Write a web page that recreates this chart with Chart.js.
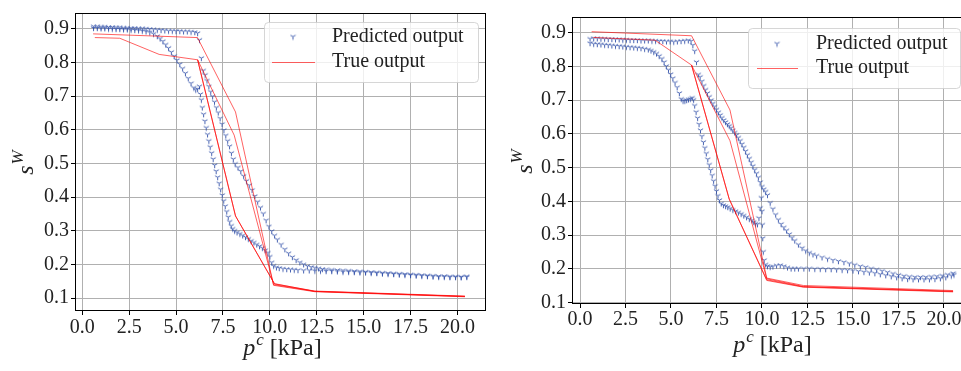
<!DOCTYPE html>
<html><head><meta charset="utf-8">
<script src="https://cdn.jsdelivr.net/npm/chart.js@4.4.1/dist/chart.umd.min.js"></script>
<style>
html,body{margin:0;padding:0;background:#fff;overflow:hidden;width:961px;height:371px;}
#wrap{position:relative;width:961px;height:371px;overflow:hidden;background:#fff;}
#c1{position:absolute;left:0;top:0;}
#c2{position:absolute;left:490px;top:0;}
</style></head>
<body><div id="wrap"><canvas id="c1" width="490" height="371"></canvas><canvas id="c2" width="490" height="371"></canvas></div>
<script>
// ---------- tick labels ----------
const xTicks = [0.0, 2.5, 5.0, 7.5, 10.0, 12.5, 15.0, 17.5, 20.0];
const yTicks = [0.1, 0.2, 0.3, 0.4, 0.5, 0.6, 0.7, 0.8, 0.9];
const seriesNames = ["Predicted output", "True output"];
const xTitle = ["p", "c", " [kPa]"];
const yTitle = ["s", "W"];

// ---------- left panel: predicted output [p^c, s^W] ----------
const leftPredicted1 = [
[0.6,0.906],[0.8,0.906],[1.0,0.905],[1.2,0.905],[1.4,0.904],[1.6,0.904],[1.8,0.903],[2.0,0.903],[2.2,0.902],[2.4,0.902],
[2.6,0.901],[2.8,0.901],[3.0,0.900],[3.2,0.900],[3.4,0.899],[3.6,0.898],[3.8,0.897],[4.0,0.896],[4.2,0.895],[4.4,0.894],
[4.6,0.893],[4.8,0.893],[5.0,0.892],[5.2,0.892],[5.4,0.891],[5.6,0.891],[5.8,0.890],[6.0,0.889],[6.15,0.886],[6.25,0.866],
[6.35,0.812],[6.45,0.775],[6.55,0.762],[6.65,0.745],[6.75,0.728],[6.85,0.712],[6.95,0.698],[7.05,0.682],[7.15,0.665],[7.25,0.650],
[7.35,0.633],[7.45,0.616],[7.55,0.598],[7.65,0.582],[7.75,0.566],[7.85,0.550],[7.95,0.530],[8.05,0.512],[8.15,0.498],
[8.3,0.487],[8.45,0.476],[8.6,0.462],[8.75,0.447],[8.9,0.434],[9.05,0.420],[9.2,0.402],[9.35,0.385],[9.5,0.368],[9.65,0.350],
[9.8,0.330],[9.95,0.312],[10.1,0.298],[10.25,0.285],[10.4,0.273],[10.6,0.258],[10.8,0.244],[11.0,0.232],[11.2,0.221],[11.4,0.212],
[11.6,0.205],[11.8,0.199],[12.0,0.194],[12.2,0.191],[12.4,0.189],[12.6,0.187],[12.8,0.185],[13.0,0.184],[13.3,0.183],[13.6,0.182],
[13.9,0.181],[14.2,0.180],[14.5,0.179],[14.8,0.178],[15.1,0.177],[15.4,0.176],[15.7,0.175],[16.0,0.174],[16.3,0.173],[16.6,0.172],
[16.9,0.171],[17.2,0.170],[17.5,0.169],[17.8,0.168],[18.1,0.167],[18.4,0.166],[18.7,0.165],[19.0,0.164],[19.3,0.164],[19.6,0.163],
[19.9,0.163],[20.2,0.162],[20.5,0.163]
];
const leftPredicted2 = [
[0.6,0.901],[0.8,0.901],[1.0,0.900],[1.2,0.900],[1.4,0.899],[1.6,0.899],[1.8,0.898],[2.0,0.898],[2.2,0.897],[2.4,0.897],
[2.6,0.896],[2.8,0.895],[3.0,0.894],[3.2,0.893],[3.4,0.891],[3.6,0.888],[3.8,0.884],[4.0,0.877],[4.15,0.870],[4.3,0.862],
[4.45,0.852],[4.6,0.842],[4.75,0.830],[4.9,0.818],[5.05,0.806],[5.2,0.794],[5.35,0.781],[5.5,0.767],[5.65,0.752],[5.8,0.737],
[5.95,0.724],[6.05,0.718],[6.15,0.720],[6.25,0.728],[6.3,0.705],[6.35,0.688],[6.4,0.665],[6.47,0.645],[6.54,0.625],[6.61,0.605],
[6.68,0.585],[6.75,0.566],[6.82,0.548],[6.9,0.530],[6.98,0.512],[7.06,0.494],[7.14,0.476],[7.22,0.458],[7.3,0.440],[7.38,0.422],
[7.46,0.405],[7.54,0.388],[7.62,0.372],[7.7,0.356],[7.78,0.340],[7.86,0.326],[7.94,0.314],[8.02,0.305],[8.12,0.299],[8.25,0.294],
[8.4,0.290],[8.55,0.285],[8.7,0.280],[8.85,0.275],[9.0,0.269],[9.15,0.264],[9.3,0.258],[9.45,0.253],[9.6,0.248],[9.75,0.241],
[9.9,0.234],[10.0,0.222],[10.1,0.205],[10.2,0.195],[10.35,0.190],[10.5,0.188],[10.7,0.186],[10.9,0.185],[11.1,0.184],[11.3,0.183],
[11.5,0.182],[11.8,0.181],[12.1,0.181],[12.4,0.180],[12.7,0.180],[13.0,0.179],[13.3,0.179],[13.6,0.178],[13.9,0.177],[14.2,0.177],
[14.5,0.176],[14.8,0.175],[15.1,0.175],[15.4,0.174],[15.7,0.173],[16.0,0.172],[16.3,0.171],[16.6,0.170],[16.9,0.169],[17.2,0.168],
[17.5,0.167],[17.8,0.166],[18.1,0.165],[18.4,0.164],[18.7,0.163],[19.0,0.162],[19.3,0.162],[19.6,0.161],[19.9,0.161],[20.2,0.161],
[20.5,0.162]
];
// ---------- left panel: true output ----------
const leftTrue1 = [[0.58,0.885],[6.14,0.874],[8.17,0.653],[10.2,0.138],[12.4,0.119],[20.4,0.104]];
const leftTrue2 = [[0.67,0.874],[2.0,0.872],[4.1,0.824],[6.15,0.808],[8.17,0.344],[10.25,0.142],[12.4,0.121],[20.4,0.106]];
const leftTrue3 = [[6.15,0.808],[8.1,0.584],[10.2,0.140],[12.4,0.120],[20.4,0.105]];
const leftTrue4 = [[6.15,0.808],[8.17,0.344],[10.25,0.143],[12.4,0.120],[20.4,0.105]];

// ---------- right panel: predicted output ----------
const rightPredicted1 = [
[0.55,0.881],[0.75,0.882],[0.95,0.882],[1.15,0.881],[1.35,0.881],[1.55,0.880],[1.75,0.880],[1.95,0.879],[2.15,0.879],[2.35,0.878],
[2.55,0.878],[2.75,0.877],[2.95,0.877],[3.15,0.877],[3.35,0.876],[3.55,0.876],[3.75,0.876],[3.95,0.875],[4.15,0.875],[4.35,0.874],
[4.55,0.874],[4.75,0.873],[4.95,0.873],[5.15,0.872],[5.35,0.873],[5.55,0.874],[5.75,0.875],[5.95,0.876],[6.1,0.874],[6.2,0.862],
[6.3,0.845],[6.4,0.812],[6.5,0.775],[6.6,0.768],[6.7,0.755],[6.8,0.742],[6.9,0.730],[7.0,0.720],[7.1,0.709],[7.2,0.699],
[7.3,0.689],[7.4,0.680],[7.5,0.671],[7.6,0.663],[7.7,0.655],[7.8,0.647],[7.9,0.640],[8.0,0.634],[8.1,0.628],[8.2,0.623],
[8.3,0.617],[8.4,0.610],[8.5,0.603],[8.6,0.596],[8.7,0.588],[8.8,0.579],[8.9,0.569],[9.0,0.559],[9.1,0.548],[9.2,0.537],
[9.3,0.526],[9.4,0.515],[9.5,0.504],[9.6,0.493],[9.7,0.482],[9.8,0.470],[9.9,0.456],[10.0,0.443],[10.1,0.435],[10.2,0.428],
[10.3,0.418],[10.45,0.395],[10.6,0.377],[10.75,0.360],[10.9,0.345],[11.05,0.332],[11.2,0.322],[11.35,0.313],[11.5,0.302],[11.65,0.292],
[11.8,0.283],[12.0,0.271],[12.2,0.261],[12.4,0.253],[12.6,0.247],[12.8,0.242],[13.0,0.238],[13.3,0.233],[13.6,0.229],[13.9,0.225],
[14.2,0.222],[14.5,0.219],[14.8,0.215],[15.1,0.211],[15.4,0.207],[15.7,0.204],[16.0,0.200],[16.3,0.197],[16.6,0.193],[16.9,0.189],
[17.2,0.185],[17.5,0.181],[17.8,0.178],[18.1,0.176],[18.4,0.175],[18.7,0.175],[19.0,0.175],[19.3,0.176],[19.6,0.177],[19.9,0.179],
[20.2,0.182],[20.5,0.186]
];
const rightPredicted2 = [
[0.55,0.868],[0.75,0.866],[0.95,0.865],[1.15,0.864],[1.35,0.863],[1.55,0.862],[1.75,0.861],[1.95,0.860],[2.15,0.859],[2.35,0.858],
[2.55,0.857],[2.75,0.856],[2.95,0.855],[3.15,0.854],[3.35,0.853],[3.55,0.851],[3.75,0.849],[3.9,0.846],[4.05,0.842],[4.2,0.837],
[4.35,0.830],[4.5,0.822],[4.62,0.812],[4.74,0.800],[4.86,0.789],[4.98,0.776],[5.1,0.764],[5.22,0.751],[5.34,0.737],[5.46,0.720],
[5.56,0.703],[5.66,0.697],[5.76,0.697],[5.86,0.699],[5.96,0.701],[6.06,0.703],[6.16,0.706],[6.24,0.700],[6.3,0.683],[6.38,0.664],
[6.46,0.646],[6.54,0.628],[6.62,0.610],[6.7,0.592],[6.78,0.575],[6.86,0.558],[6.94,0.541],[7.02,0.524],[7.1,0.508],[7.18,0.492],
[7.26,0.476],[7.34,0.460],[7.42,0.445],[7.5,0.430],[7.58,0.416],[7.66,0.403],[7.76,0.393],[7.88,0.388],[8.0,0.385],[8.12,0.382],
[8.25,0.378],[8.4,0.374],[8.55,0.370],[8.7,0.366],[8.85,0.362],[9.0,0.357],[9.15,0.352],[9.3,0.347],[9.45,0.343],[9.55,0.338],
[9.65,0.333],[9.75,0.331],[9.83,0.350],[9.9,0.380],[9.96,0.410],[10.0,0.370],[10.02,0.330],[10.04,0.290],[10.07,0.250],[10.12,0.225],
[10.2,0.212],[10.3,0.207],[10.45,0.205],[10.6,0.206],[10.8,0.209],[11.0,0.210],[11.2,0.207],[11.4,0.203],[11.6,0.200],[11.8,0.200],
[12.0,0.200],[12.3,0.200],[12.6,0.200],[12.9,0.199],[13.2,0.199],[13.5,0.198],[13.8,0.198],[14.1,0.197],[14.4,0.196],[14.7,0.195],
[15.0,0.194],[15.3,0.192],[15.6,0.190],[15.9,0.188],[16.2,0.186],[16.5,0.183],[16.8,0.180],[17.1,0.177],[17.4,0.174],[17.7,0.171],
[18.0,0.169],[18.3,0.168],[18.6,0.168],[18.9,0.168],[19.2,0.168],[19.5,0.169],[19.8,0.171],[20.1,0.174],[20.4,0.179],[20.55,0.182]
];
// ---------- right panel: true output ----------
const rightTrue1 = [[0.64,0.903],[6.13,0.891],[8.24,0.671],[10.26,0.173],[12.27,0.151],[20.5,0.136]];
const rightTrue2 = [[0.73,0.886],[4.12,0.878],[6.13,0.804],[8.2,0.407],[10.26,0.168],[12.27,0.147],[20.5,0.133]];
const rightTrue3 = [[6.13,0.804],[8.24,0.580],[10.26,0.171],[12.27,0.148],[20.5,0.134]];
const rightTrue4 = [[6.13,0.804],[8.2,0.407],[10.26,0.166],[12.27,0.146],[20.5,0.132]];

// ---------- styles ----------
const BLUE = 'rgba(48,78,168,0.88)';
const RED = 'rgba(255,0,0,0.62)';
const TXT = '#222';
const SERIF = "'Liberation Serif', 'DejaVu Serif', serif";

function triDown(color){
  const c = document.createElement('canvas'); c.width = 7; c.height = 7;
  const g = c.getContext('2d');
  g.strokeStyle = color; g.lineWidth = 1; g.lineCap = 'butt';
  const cx = 3.5, cy = 3.2, r = 3.0;
  g.beginPath();
  g.moveTo(cx, cy); g.lineTo(cx, cy + r);
  g.moveTo(cx, cy); g.lineTo(cx - r*0.866, cy - r*0.5);
  g.moveTo(cx, cy); g.lineTo(cx + r*0.866, cy - r*0.5);
  g.stroke();
  return c;
}
const marker = triDown(BLUE);

const toXY = arr => arr.map(p => ({x: p[0], y: p[1]}));

function predSet(arr){
  return {label: seriesNames[0], data: toXY(arr), showLine: false, pointStyle: marker, pointRadius: 3, order: 2};
}
function trueSet(arr){
  return {label: seriesNames[1], data: toXY(arr), showLine: true, borderColor: RED, borderWidth: 1,
          pointRadius: 0, fill: false, tension: 0, order: 1};
}

const framePlugin = {
  id: 'frame',
  afterDraw(chart, args, o){
    const a = chart.chartArea, ctx = chart.ctx;
    ctx.save();
    ctx.strokeStyle = '#000'; ctx.lineWidth = 1;
    ctx.strokeRect(Math.round(a.left)-0.5, Math.round(a.top)-0.5, Math.round(a.right-a.left)+1, Math.round(a.bottom-a.top)+1);
    ctx.restore();
  }
};

const titlePlugin = {
  id: 'axTitles',
  afterDraw(chart, args, o){
    const ctx = chart.ctx;
    ctx.save();
    ctx.fillStyle = TXT; ctx.textBaseline = 'alphabetic';
    const big = "italic 24px " + SERIF, sup = "italic 17px " + SERIF, reg = "24px " + SERIF;
    ctx.font = big; const w1 = ctx.measureText(xTitle[0]).width;
    ctx.font = sup; const w2 = ctx.measureText(xTitle[1]).width;
    ctx.font = reg; const w3 = ctx.measureText(xTitle[2]).width;
    let x0 = o.xCenter - (w1 + w2 + w3)/2;
    ctx.font = big; ctx.fillText(xTitle[0], x0, o.xBase);
    ctx.font = sup; ctx.fillText(xTitle[1], x0 + w1 + 1, o.xBase - 10);
    ctx.font = reg; ctx.fillText(xTitle[2], x0 + w1 + w2 + 1, o.xBase);
    ctx.translate(o.yBase, o.yCenter);
    ctx.rotate(-Math.PI/2);
    ctx.font = big; const v1 = ctx.measureText(yTitle[0]).width;
    ctx.font = sup; const v2 = ctx.measureText(yTitle[1]).width;
    let y0 = -(v1 + v2)/2;
    ctx.font = big; ctx.fillText(yTitle[0], y0, 0);
    ctx.font = sup; ctx.fillText(yTitle[1], y0 + v1 + 1, -10);
    ctx.restore();
  }
};

const legendPlugin = {
  id: 'boxLegend',
  afterDraw(chart, args, o){
    const ctx = chart.ctx;
    ctx.save();
    const r = 4, x = o.x, y = o.y, w = o.w, h = o.h;
    ctx.beginPath();
    ctx.moveTo(x + r, y); ctx.lineTo(x + w - r, y); ctx.arcTo(x + w, y, x + w, y + r, r);
    ctx.lineTo(x + w, y + h - r); ctx.arcTo(x + w, y + h, x + w - r, y + h, r);
    ctx.lineTo(x + r, y + h); ctx.arcTo(x, y + h, x, y + h - r, r);
    ctx.lineTo(x, y + r); ctx.arcTo(x, y, x + r, y, r); ctx.closePath();
    ctx.fillStyle = 'rgba(255,255,255,0.8)'; ctx.fill();
    ctx.strokeStyle = 'rgba(204,204,204,0.8)'; ctx.lineWidth = 1; ctx.stroke();
    ctx.drawImage(marker, o.markX - marker.width/2, o.row1 - marker.height/2);
    ctx.strokeStyle = RED; ctx.lineWidth = 1;
    ctx.beginPath(); ctx.moveTo(o.lineX0, o.row2 + 0.5); ctx.lineTo(o.lineX1, o.row2 + 0.5); ctx.stroke();
    ctx.fillStyle = TXT; ctx.font = "20px " + SERIF; ctx.textBaseline = 'middle'; ctx.textAlign = 'left';
    ctx.fillText(seriesNames[0], o.textX, o.row1);
    ctx.fillText(seriesNames[1], o.textX, o.row2);
    ctx.restore();
  }
};

function makeChart(canvas, preds, trues, cfg){
  const datasets = [...trues.map(trueSet), ...preds.map(predSet)];
  return new Chart(canvas, {
    type: 'scatter',
    data: {datasets},
    plugins: [framePlugin, titlePlugin, legendPlugin],
    options: {
      responsive: false, animation: false, events: [],
      layout: {padding: cfg.padding},
      plugins: {
        legend: {display: false}, tooltip: {enabled: false},
        axTitles: cfg.titles, boxLegend: cfg.legend
      },
      scales: {
        x: {
          type: 'linear', min: cfg.xMin, max: cfg.xMax,
          afterBuildTicks: s => { s.ticks = xTicks.map(v => ({value: v})); },
          afterFit: s => { s.height = cfg.xAxisH; },
          ticks: {callback: v => Number(v).toFixed(1), font: {family: SERIF, size: 20}, color: TXT,
                  padding: cfg.xPad, maxRotation: 0, autoSkip: false},
          grid: {color: '#b0b0b0', lineWidth: 1, tickLength: 5, tickColor: '#000', drawTicks: true},
          border: {display: false}
        },
        y: {
          type: 'linear', min: cfg.yMin, max: cfg.yMax,
          afterBuildTicks: s => { s.ticks = yTicks.map(v => ({value: v})); },
          afterFit: s => { s.width = cfg.yAxisW; },
          ticks: {callback: v => Number(v).toFixed(1), font: {family: SERIF, size: 20}, color: TXT,
                  padding: 2, autoSkip: false},
          grid: {color: '#b0b0b0', lineWidth: 1, tickLength: 5, tickColor: '#000', drawTicks: true},
          border: {display: false}
        }
      }
    }
  });
}

makeChart(document.getElementById('c1'),
  [leftPredicted1, leftPredicted2],
  [leftTrue1, leftTrue2, leftTrue3, leftTrue4],
  {
    padding: {left: 0, top: 11, right: 2, bottom: 0},
    xAxisH: 61, yAxisW: 76, xPad: 1,
    xMin: -0.333, xMax: 21.47, yMin: 0.0647, yMax: 0.944,
    titles: {xCenter: 282, xBase: 355, yBase: 33, yCenter: 163},
    legend: {x: 264.5, y: 22.5, w: 214, h: 60, markX: 293, lineX0: 272, lineX1: 315, textX: 332, row1: 37, row2: 62}
  });

makeChart(document.getElementById('c2'),
  [rightPredicted1, rightPredicted2],
  [rightTrue1, rightTrue2, rightTrue3, rightTrue4],
  {
    padding: {left: 0, top: 18, right: 10, bottom: 0},
    xAxisH: 68, yAxisW: 83, xPad: 0,
    xMin: -0.385, xMax: 21.43, yMin: 0.0991, yMax: 0.9436,
    titles: {xCenter: 282, xBase: 352, yBase: 42, yCenter: 162},
    legend: {x: 258.5, y: 28.5, w: 212, h: 60, markX: 287, lineX0: 267, lineX1: 308, textX: 326, row1: 44, row2: 68}
  });
</script>
</body></html>
